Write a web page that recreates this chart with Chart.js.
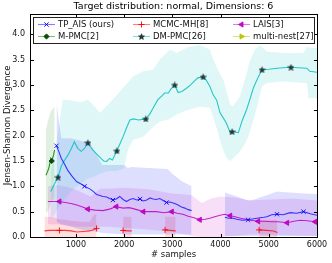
<!DOCTYPE html>
<html>
<head>
<meta charset="utf-8">
<script src="https://cdn.jsdelivr.net/npm/chart.js@4.4.0/dist/chart.umd.min.js"></script>
<style>
  html, body { margin: 0; padding: 0; background: #fff; }
  #wrap { width: 332px; height: 263px; }
</style>
</head>
<body>
<div id="wrap"><canvas id="jsChart"></canvas></div>
<script>
// values

const titleText = "Target distribution: normal, Dimensions: 6";
const yTitle = "Jensen-Shannon Divergence";
const xTicks = [1000, 2000, 3000, 4000, 5000, 6000];
const yTicks = [0, 0.5, 1, 1.5, 2, 2.5, 3, 3.5, 4];

// TP_AIS (ours) - two runs with a gap
const tpX1 = [600, 650, 700, 760, 830, 920, 1020, 1100, 1180, 1290, 1360, 1430, 1500, 1560, 1640, 1700, 1770, 1840, 1910, 1980,
  2050, 2120, 2190, 2260, 2330, 2400, 2470, 2540, 2600, 2670, 2740, 2810, 2880, 2950, 3020, 3100, 3190, 3260, 3330, 3400];
const tpY1 = [1.80, 1.68, 1.55, 1.45, 1.32, 1.20, 1.09, 1.05, 1.00, 0.95, 0.90, 0.84, 0.82, 0.80, 0.79, 0.76, 0.73, 0.75, 0.80, 0.74,
  0.70, 0.74, 0.76, 0.73, 0.75, 0.71, 0.73, 0.77, 0.75, 0.74, 0.76, 0.72, 0.68, 0.69, 0.67, 0.64, 0.59, 0.57, 0.54, 0.52];
const tpX2 = [4090, 4170, 4260, 4340, 4450, 4570, 4690, 4820, 4900, 4960, 5060, 5170, 5300, 5440, 5580, 5720, 5860, 6000];
const tpY2 = [0.39, 0.37, 0.37, 0.35, 0.33, 0.34, 0.36, 0.38, 0.39, 0.40, 0.44, 0.45, 0.44, 0.48, 0.47, 0.50, 0.46, 0.43];
const tpMarkX = [600, 1180, 1770, 2330, 2880, 4570, 5170, 5720];
const tpBandX1 = [600, 640, 700, 900, 1100, 1300, 1450, 1550, 2000, 2080, 2150, 2500, 2900, 3000, 3200, 3400];
const tpHi1 = [2.65, 2.35, 1.95, 1.95, 1.90, 1.85, 1.60, 1.42, 1.42, 1.36, 1.38, 1.36, 1.34, 1.25, 1.10, 1.00];
const tpLo1 = [0.30, 0.28, 0.25, 0.20, 0.15, 0.12, 0.10, 0.08, 0.05, 0.05, 0.05, 0.05, 0.05, 0.05, 0.05, 0.05];
const tpBandX2 = [4090, 4340, 4570, 4700, 4820, 5000, 5170, 5440, 5720, 6000];
const tpHi2 = [0.88, 0.80, 0.72, 0.74, 0.78, 0.84, 0.90, 0.88, 0.86, 0.85];
const tpLo2 = [0.02, 0.02, 0.02, 0.02, 0.02, 0.02, 0.02, 0.02, 0.02, 0.02];

// M-PMC[2]
const mpX = [380, 410, 440, 460, 480, 500, 520, 540, 560];
const mpY = [1.22, 1.28, 1.36, 1.45, 1.55, 1.50, 1.56, 1.62, 1.72];
const mpHi = [2.10, 2.25, 2.35, 2.42, 2.48, 2.50, 2.52, 2.55, 2.58];
const mpLo = [0.45, 0.50, 0.55, 0.60, 0.65, 0.70, 0.72, 0.75, 0.80];
const mpMarkX = [500];

// MCMC-MH[8] - short runs
const mhX1 = [350, 450, 560, 660, 780, 900, 1020, 1150, 1290, 1380, 1430];
const mhY1 = [0.12, 0.13, 0.13, 0.13, 0.13, 0.12, 0.10, 0.11, 0.12, 0.15, 0.17];
const mhHi1 = [0.40, 0.40, 0.38, 0.35, 0.34, 0.32, 0.31, 0.30, 0.30, 0.45, 0.45];
const mhX2 = [1980, 2070, 2160];
const mhY2 = [0.13, 0.12, 0.12];
const mhHi2 = [0.40, 0.40, 0.40];
const mhX3 = [2850, 2960, 3070];
const mhY3 = [0.14, 0.13, 0.12];
const mhHi3 = [0.40, 0.40, 0.40];
const mhX4 = [4800, 4950, 5100, 5180];
const mhY4 = [0.14, 0.13, 0.12, 0.09];
const mhHi4 = [0.34, 0.34, 0.34, 0.34];
const mhMarkX = [660, 1430, 1980, 2850, 4800];

// DM-PMC[26]
const dmX = [480, 560, 630, 700, 770, 840, 910, 970, 1040, 1110, 1180, 1250, 1300, 1350, 1450, 1520, 1580, 1640, 1700, 1760, 1850,
  1920, 1980, 2050, 2120, 2200, 2300, 2450, 2530, 2600, 2700, 2780, 2840, 2920, 2970, 3050, 3120, 3200, 3300, 3380, 3450,
  3530, 3640, 3700, 3780, 3850, 3920, 3990, 4050, 4120, 4210, 4240, 4370, 4450, 4540, 4620, 4680, 4780, 4860, 5000, 5170,
  5300, 5460, 5600, 5790, 5850, 6000];
const dmY = [0.90, 1.05, 1.18, 1.40, 1.52, 1.62, 1.75, 1.88, 1.75, 1.69, 1.75, 1.86, 1.78, 1.72, 1.62, 1.55, 1.50, 1.49, 1.55, 1.52, 1.70,
  1.85, 1.98, 2.15, 2.31, 2.33, 2.31, 2.33, 2.42, 2.54, 2.71, 2.78, 2.84, 2.84, 2.92, 3.00, 2.85, 2.87, 2.94, 3.00, 3.07,
  3.14, 3.16, 3.10, 2.97, 2.80, 2.70, 2.45, 2.36, 2.25, 2.04, 2.08, 2.06, 2.30, 2.51, 2.75, 2.94, 3.15, 3.30, 3.31, 3.33,
  3.34, 3.35, 3.34, 3.33, 3.27, 3.25];
const dmMarkX = [630, 1250, 1850, 2450, 3050, 3640, 4240, 4860, 5460];
const dmBandX = [480, 560, 650, 730, 900, 1100, 1250, 1390, 1500, 1600, 1700, 1850, 2000, 2080, 2190, 2400, 2600, 2740, 2950, 3100,
  3300, 3570, 3780, 3850, 3920, 3990, 4060, 4130, 4200, 4260, 4400, 4470, 4540, 4600, 4710, 4820, 4860, 4960, 5300, 5720,
  5790, 5820, 6000];
const dmHi = [1.30, 1.65, 2.20, 2.71, 2.70, 2.66, 2.71, 2.58, 2.45, 2.55, 2.65, 2.80, 2.97, 3.05, 3.17, 3.27, 3.30, 3.50, 3.70, 3.63,
  3.74, 3.79, 3.70, 3.50, 3.35, 3.22, 3.10, 2.85, 2.61, 2.58, 2.77, 3.00, 3.23, 3.45, 3.70, 3.79, 3.75, 3.66, 3.63, 3.63,
  3.76, 3.74, 3.73];
const dmLo = [0.35, 0.45, 0.60, 0.70, 0.90, 1.05, 1.15, 1.20, 1.25, 1.28, 1.30, 1.30, 1.35, 1.72, 1.92, 1.98, 2.17, 2.28, 2.33, 2.42,
  2.50, 2.57, 2.55, 2.35, 2.15, 1.90, 1.70, 1.55, 1.50, 1.55, 1.68, 1.78, 1.90, 2.05, 2.40, 2.80, 2.97, 3.04, 3.07, 3.04,
  3.04, 2.74, 2.74];

// LAIS[3]
const laisX = [420, 540, 660, 780, 900, 1020, 1140, 1250, 1400, 1560, 1700, 1840, 1980, 2100, 2190, 2300, 2400, 2530, 2670, 2830,
  2990, 3100, 3220, 3330, 3450, 3570, 3680, 3780, 3880, 3990, 4090, 4200, 4300, 4420, 4520, 4610, 4700, 4780, 4900, 5050,
  5200, 5380, 5520, 5650, 5800, 5960];
const laisY = [0.70, 0.70, 0.70, 0.68, 0.66, 0.63, 0.59, 0.55, 0.53, 0.52, 0.55, 0.60, 0.57, 0.58, 0.56, 0.53, 0.50, 0.50, 0.50, 0.48,
  0.50, 0.47, 0.45, 0.41, 0.38, 0.34, 0.35, 0.37, 0.40, 0.43, 0.45, 0.42, 0.40, 0.37, 0.35, 0.33, 0.32, 0.31, 0.31, 0.30,
  0.30, 0.28, 0.31, 0.33, 0.32, 0.30];
const laisMarkX = [660, 1250, 1840, 2400, 2990, 3570, 4200, 4780, 5380, 5960];
const laisBandX = [420, 600, 830, 1000, 1310, 1500, 1660, 2000, 2500, 3000, 3400, 3610, 3800, 4000, 4300, 4600, 5000, 5500, 6000];
const laisHi = [1.00, 1.02, 0.99, 0.93, 0.80, 0.95, 0.95, 0.97, 0.94, 0.86, 0.83, 0.67, 0.76, 0.80, 0.78, 0.72, 0.74, 0.76, 0.72];
const laisLo = [0.25, 0.25, 0.22, 0.20, 0.20, 0.20, 0.20, 0.18, 0.15, 0.10, 0.02, 0.00, 0.00, 0.00, 0.02, 0.05, 0.05, 0.03, 0.02];

// multi-nest[27] has nothing inside the plotted range
const mnX = [];
const mnY = [];

const FONT = "'DejaVu Sans', sans-serif";

function rgba(c, a) { return `rgba(${c[0]},${c[1]},${c[2]},${a})`; }
const BLUE = [0, 0, 255], RED = [255, 0, 0], MAG = [191, 0, 191], GREEN = [0, 128, 0], CYAN = [0, 191, 191], YEL = [191, 191, 0];

// filled five point star for DM-PMC markers
function starCanvas(size, fill, stroke) {
  const c = document.createElement("canvas");
  c.width = c.height = size;
  const g = c.getContext("2d");
  const r = size / 2;
  g.beginPath();
  for (let i = 0; i < 10; i++) {
    const a = -Math.PI / 2 + i * Math.PI / 5;
    const rr = i % 2 ? r * 0.42 : r - 0.3;
    g.lineTo(r + rr * Math.cos(a), r + 0.4 + rr * Math.sin(a));
  }
  g.closePath();
  g.fillStyle = fill;
  g.fill();
  g.strokeStyle = stroke;
  g.lineWidth = 0.5;
  g.stroke();
  return c;
}
const star = starCanvas(7, "#1e3c3c", "#0a2020");

function pts(xs, ys) { return xs.map((x, i) => ({ x: x, y: ys[i] })); }

// join runs with a null point so the line breaks
function joinRuns(runs) {
  let out = [];
  runs.forEach((r, i) => {
    if (i > 0) out.push({ x: (out[out.length - 1].x + r[0].x) / 2, y: null });
    out = out.concat(r);
  });
  return out;
}

// line styles, also used by the legend
const series = [
  { label: "TP_AIS (ours)", col: BLUE, style: "crossRot", r: 3, rot: 0, fill: rgba(BLUE, 0.8), stroke: rgba(BLUE, 0.9) },
  { label: "M-PMC[2]", col: GREEN, style: "rectRot", r: 2.6, rot: 0, fill: "#0a4a0a", stroke: "#0a4a0a" },
  { label: "MCMC-MH[8]", col: RED, style: "cross", r: 3, rot: 0, fill: rgba(RED, 0.8), stroke: rgba(RED, 0.9) },
  { label: "DM-PMC[26]", col: CYAN, style: star, r: 3, rot: 0, fill: "#1e3c3c", stroke: "#0a2020" },
  { label: "LAIS[3]", col: MAG, style: "triangle", r: 3, rot: -90, fill: rgba(MAG, 0.9), stroke: rgba(MAG, 0.9) },
  { label: "multi-nest[27]", col: YEL, style: "triangle", r: 3, rot: 90, fill: rgba(YEL, 0.9), stroke: rgba(YEL, 0.9) }
];

function lineSet(s, data, markX, alpha) {
  return {
    label: s.label,
    data: data,
    borderColor: rgba(s.col, alpha),
    borderWidth: 1.1,
    fill: false,
    tension: 0,
    spanGaps: false,
    pointStyle: s.style,
    rotation: s.rot,
    pointBackgroundColor: s.fill,
    pointBorderColor: s.stroke,
    pointBorderWidth: 1,
    pointRadius: ctx => (ctx.raw && ctx.raw.y !== null && markX.includes(ctx.raw.x)) ? s.r : 0,
    pointHoverRadius: 0
  };
}

function bandSets(xs, lo, hi, col, alpha) {
  return [
    { data: pts(xs, lo), borderWidth: 0, pointRadius: 0, fill: false, tension: 0 },
    { data: pts(xs, hi), borderWidth: 0, pointRadius: 0, fill: "-1", tension: 0, backgroundColor: rgba(col, alpha) }
  ];
}

const lineSets = [
  lineSet(series[0], joinRuns([pts(tpX1, tpY1), pts(tpX2, tpY2)]), tpMarkX, 0.75),
  lineSet(series[1], pts(mpX, mpY), mpMarkX, 0.85),
  lineSet(series[2], joinRuns([pts(mhX1, mhY1), pts(mhX2, mhY2), pts(mhX3, mhY3), pts(mhX4, mhY4)]), mhMarkX, 0.75),
  lineSet(series[3], pts(dmX, dmY), dmMarkX, 0.85),
  lineSet(series[4], pts(laisX, laisY), laisMarkX, 0.85),
  lineSet(series[5], pts(mnX, mnY), [], 0.85)
];

const floor = v => v.map(() => -0.1);
const bands = [].concat(
  bandSets(dmBandX, dmLo, dmHi, CYAN, 0.12),
  bandSets(tpBandX1, tpLo1, tpHi1, BLUE, 0.13),
  bandSets(tpBandX2, tpLo2, tpHi2, BLUE, 0.13),
  bandSets(laisBandX, laisLo, laisHi, MAG, 0.12),
  bandSets(mpX, mpLo, mpHi, GREEN, 0.12),
  bandSets(mhX1, floor(mhX1), mhHi1, RED, 0.13),
  bandSets(mhX2, floor(mhX2), mhHi2, RED, 0.13),
  bandSets(mhX3, floor(mhX3), mhHi3, RED, 0.13),
  bandSets(mhX4, floor(mhX4), mhHi4, RED, 0.13)
);

// frame, inward ticks, titles and the boxed legend, drawn like matplotlib
const mplDecor = {
  id: "mplDecor",
  afterDraw(chart) {
    const { ctx, chartArea: a, scales } = chart;
    const L = Math.round(a.left) + 0.5, R = Math.round(a.right) + 0.5;
    const T = Math.round(a.top) + 0.5, B = Math.round(a.bottom) + 0.5;
    ctx.save();
    ctx.strokeStyle = "#000";
    ctx.lineWidth = 1;
    ctx.strokeRect(L, T, R - L, B - T);
    ctx.beginPath();
    yTicks.forEach(v => {
      const y = Math.round(scales.y.getPixelForValue(v)) + 0.5;
      ctx.moveTo(L, y); ctx.lineTo(L + 3.5, y);
      ctx.moveTo(R, y); ctx.lineTo(R - 3.5, y);
    });
    xTicks.forEach(v => {
      const x = Math.round(scales.x.getPixelForValue(v)) + 0.5;
      ctx.moveTo(x, B); ctx.lineTo(x, B - 3.5);
      ctx.moveTo(x, T); ctx.lineTo(x, T + 3.5);
    });
    ctx.stroke();

    // title, centred over the axes
    ctx.fillStyle = "#000";
    ctx.font = `9.5px ${FONT}`;
    ctx.textAlign = "center";
    ctx.textBaseline = "middle";
    ctx.fillText(titleText, (a.left + a.right) / 2, 7);

    // y axis title
    ctx.save();
    ctx.translate(7.5, (a.top + a.bottom) / 2);
    ctx.rotate(-Math.PI / 2);
    ctx.font = `8.5px ${FONT}`;
    ctx.fillStyle = "#111";
    ctx.fillText(yTitle, 0, 0);
    ctx.restore();

    // legend box, 3 columns filled column first
    ctx.fillStyle = "rgba(255,255,255,0.9)";
    ctx.fillRect(33.5, 17.5, 281, 26);
    ctx.strokeStyle = "#222";
    ctx.strokeRect(33.5, 17.5, 281, 26);
    const colX = [38, 133, 233];
    const rowY = [24.5, 36.5];
    ctx.font = `8.5px ${FONT}`;
    ctx.textAlign = "left";
    series.forEach((s, i) => {
      const x0 = colX[Math.floor(i / 2)], y0 = rowY[i % 2];
      ctx.strokeStyle = rgba(s.col, 0.5);
      ctx.lineWidth = 1.1;
      ctx.beginPath();
      ctx.moveTo(x0, y0); ctx.lineTo(x0 + 17, y0);
      ctx.stroke();
      ctx.fillStyle = s.fill;
      ctx.strokeStyle = s.stroke;
      ctx.lineWidth = 1;
      Chart.helpers.drawPoint(ctx, { pointStyle: s.style, radius: s.r, rotation: s.rot, borderWidth: 1 }, x0 + 8.5, y0);
      ctx.fillStyle = "#111";
      ctx.fillText(s.label, x0 + 20, y0 + 0.5);
    });
    ctx.restore();
  }
};

const chart = new Chart(document.getElementById("jsChart").getContext("2d"), {
  type: "line",
  data: { datasets: lineSets.concat(bands) },
  options: {
    responsive: true,
    maintainAspectRatio: false,
    animation: false,
    layout: { padding: { top: 14, right: 15, left: 0, bottom: 0 } },
    plugins: {
      legend: { display: false },
      tooltip: { enabled: false },
      title: { display: false }
    },
    scales: {
      x: {
        type: "linear",
        min: 50,
        max: 6000,
        grid: { display: false, drawTicks: false },
        border: { display: false },
        afterBuildTicks: s => { s.ticks = xTicks.map(v => ({ value: v })); },
        afterFit: s => { s.height = 26; },
        ticks: { font: { family: FONT, size: 8 }, color: "#111", padding: 3, maxRotation: 0, callback: v => String(v) },
        title: { display: true, text: "# samples", font: { family: FONT, size: 8.5 }, color: "#111", padding: { top: 3, bottom: 3 } }
      },
      y: {
        type: "linear",
        min: 0,
        max: 4.4,
        grid: { display: false, drawTicks: false },
        border: { display: false },
        afterBuildTicks: s => { s.ticks = yTicks.map(v => ({ value: v })); },
        afterFit: s => { s.width = 30; },
        ticks: { font: { family: FONT, size: 8 }, color: "#111", padding: 5, callback: v => Number(v).toFixed(1) }
      }
    }
  },
  plugins: [mplDecor]
});
</script>
</body>
</html>
